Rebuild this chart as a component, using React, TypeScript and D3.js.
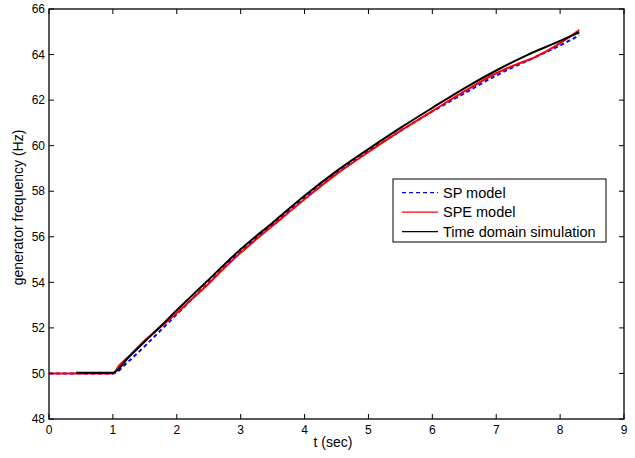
import React from "react";
import * as d3 from "d3";

const W = 635;
const H = 458;

const xTicks = [0, 1, 2, 3, 4, 5, 6, 7, 8, 9];
const yTicks = [48, 50, 52, 54, 56, 58, 60, 62, 64, 66];

// SP model (blue dashed)
const spT = [0, 1.0, 1.25, 1.5, 1.75, 2.0, 2.25, 2.5, 2.75, 3.0, 3.5, 4.0, 4.5, 5.0, 5.5, 6.0, 6.5, 7.0, 7.5, 8.0, 8.3];
const spF = [50.0, 50.0, 50.55, 51.2, 51.9, 52.6, 53.3, 54.0, 54.7, 55.35, 56.55, 57.7, 58.78, 59.75, 60.65, 61.5, 62.3, 63.08, 63.75, 64.4, 64.85];

// SPE model (red)
const speT = [0, 1.0, 1.1, 1.25, 1.5, 1.75, 2.0, 2.25, 2.5, 2.75, 3.0, 3.5, 4.0, 4.5, 5.0, 5.5, 6.0, 6.5, 7.0, 7.3, 7.6, 8.0, 8.3];
const speF = [50.0, 50.0, 50.35, 50.75, 51.45, 52.05, 52.65, 53.3, 53.95, 54.65, 55.3, 56.48, 57.65, 58.75, 59.72, 60.65, 61.52, 62.38, 63.18, 63.55, 63.88, 64.5, 65.08];

// Time domain simulation (black)
const tdT = [0.42, 1.0, 1.25, 1.5, 1.75, 2.0, 2.25, 2.5, 2.75, 3.0, 3.5, 4.0, 4.5, 5.0, 5.5, 6.0, 6.5, 7.0, 7.5, 8.0, 8.3];
const tdF = [50.03, 50.03, 50.72, 51.4, 52.08, 52.78, 53.45, 54.12, 54.8, 55.45, 56.62, 57.8, 58.88, 59.85, 60.78, 61.66, 62.52, 63.3, 64.0, 64.6, 64.98];

const legendLabels = ["SP model", "SPE model", "Time domain simulation"];

const FONT = "Liberation Sans, Arial, sans-serif";

export default function App() {
  const left = 49, right = 624, top = 9, bottom = 419;
  const x = d3.scaleLinear().domain([0, 9]).range([left, right]);
  const y = d3.scaleLinear().domain([48, 66]).range([bottom, top]);
  const line = d3.line<[number, number]>().x((d) => x(d[0])).y((d) => y(d[1])).curve(d3.curveMonotoneX);
  const zip = (a: number[], b: number[]) => a.map((v, i) => [v, b[i]] as [number, number]);
  const tl = 5;

  const series = [
    { t: spT, f: spF, color: "#0000ff", dash: "4,3" },
    { t: speT, f: speF, color: "#ff0000", dash: undefined },
    { t: tdT, f: tdF, color: "#000000", dash: undefined },
  ];

  const lx = 393, ly = 179, lw = 213, lh = 63;

  return (
    <svg width={W} height={H} style={{ position: "absolute", left: 0, top: 0, background: "#fff" }} fontFamily={FONT}>
      <rect x={0} y={0} width={W} height={H} fill="#fff" />
      {series.map((s, i) => (
        <path key={i} d={line(zip(s.t, s.f)) || ""} fill="none" stroke={s.color} strokeWidth={2} strokeDasharray={s.dash} />
      ))}
      <rect x={left} y={top} width={right - left} height={bottom - top} fill="none" stroke="#000" strokeWidth={1.3} />
      {xTicks.map((t) => (
        <g key={"x" + t}>
          <line x1={x(t)} x2={x(t)} y1={bottom} y2={bottom - tl} stroke="#000" strokeWidth={1} />
          <line x1={x(t)} x2={x(t)} y1={top} y2={top + tl} stroke="#000" strokeWidth={1} />
          <text x={x(t)} y={433.5} textAnchor="middle" fontSize={12}>{t}</text>
        </g>
      ))}
      {yTicks.map((v) => (
        <g key={"y" + v}>
          <line x1={left} x2={left + tl} y1={y(v)} y2={y(v)} stroke="#000" strokeWidth={1} />
          <line x1={right} x2={right - tl} y1={y(v)} y2={y(v)} stroke="#000" strokeWidth={1} />
          <text x={45} y={y(v) + 4.2} textAnchor="end" fontSize={12}>{v}</text>
        </g>
      ))}
      <text x={333} y={446.5} textAnchor="middle" fontSize={14}>t (sec)</text>
      <text transform={`translate(23,207.5) rotate(-90)`} textAnchor="middle" fontSize={14}>generator frequency (Hz)</text>
      <rect x={lx} y={ly} width={lw} height={lh} fill="#fff" stroke="#000" strokeWidth={1} />
      {legendLabels.map((lab, i) => {
        const yy = 192.7 + i * 19.5;
        const s = series[i];
        return (
          <g key={lab}>
            <line x1={402} x2={438} y1={yy} y2={yy} stroke={s.color} strokeWidth={1.3} strokeDasharray={s.dash} />
            <text x={443} y={yy + 5} fontSize={14.5}>{lab}</text>
          </g>
        );
      })}
    </svg>
  );
}
